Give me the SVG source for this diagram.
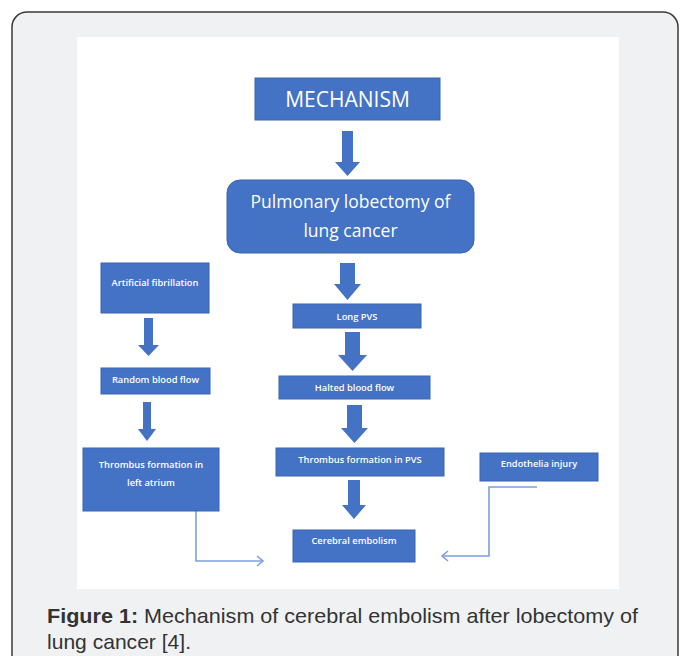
<svg xmlns="http://www.w3.org/2000/svg" width="681" height="656" viewBox="0 0 681 656">
<style>
.box{fill:#4472C4;stroke:#3A65B5;stroke-width:1}
.t{font-family:"Open Sans","Liberation Sans",sans-serif;fill:#ffffff;text-anchor:middle}
.s{font-size:9.3px;font-weight:600}
.blk{fill:#4472C4}
.ln{fill:none;stroke:#7C9FDD;stroke-width:1.6}
.cap{font-family:"Liberation Sans",Arial,sans-serif;font-size:21px;fill:#333333}
</style>
<rect x="12" y="12" width="666" height="660" rx="15" fill="#F0F1F3" stroke="#3a3a3a" stroke-width="1.5"/>
<rect x="77" y="37" width="542" height="552" fill="#FFFFFF"/>

<g id="connectors">
<polygon class="blk" points="342,131 353,131 353,162 360,162 347.5,176 335,162 342,162"/>
<polygon class="blk" points="340,263 355,263 355,284 361,284 347.5,300 334,284 340,284"/>
<polygon class="blk" points="345,332 360,332 360,355 367,355 352.5,371 338,355 345,355"/>
<polygon class="blk" points="347,405 362,405 362,428 368,428 354.5,443 341,428 347,428"/>
<polygon class="blk" points="348,480 360,480 360,505 366,505 354,519 342,505 348,505"/>
<polygon class="blk" points="144,318 153,318 153,345 159,345 148.5,356 138,345 144,345"/>
<polygon class="blk" points="143,402 151,402 151,429 156,429 147,441 138,429 143,429"/>
<polyline class="ln" points="196,511 196,561 263,561"/>
<polyline class="ln" points="257,556 263,561 257,566"/>
<polyline class="ln" points="537,487 489,487 489,556 442,556"/>
<polyline class="ln" points="448,551 442,556 448,561"/>
</g>

<g id="mechanism">
<rect class="box" x="255" y="78" width="185" height="42"/>
<text class="t" x="347.5" y="107" font-size="21">MECHANISM</text>
</g>
<g id="lobectomy">
<rect class="box" x="227" y="180" width="247" height="73" rx="13"/>
<text class="t" x="350.5" y="208" font-size="17.5">Pulmonary lobectomy of</text>
<text class="t" x="350.5" y="237" font-size="17.5">lung cancer</text>
</g>
<g id="long-pvs">
<rect class="box" x="293" y="304" width="128" height="24"/>
<text class="t s" x="357" y="319.5">Long PVS</text>
</g>
<g id="halted">
<rect class="box" x="279" y="376" width="151" height="23"/>
<text class="t s" x="354.5" y="391">Halted blood flow</text>
</g>
<g id="thrombus-pvs">
<rect class="box" x="276" y="448" width="168" height="28"/>
<text class="t s" x="360" y="463">Thrombus formation in PVS</text>
</g>
<g id="cerebral">
<rect class="box" x="293" y="530" width="122" height="32"/>
<text class="t s" x="354" y="544">Cerebral embolism</text>
</g>
<g id="fibrillation">
<rect class="box" x="101" y="263" width="108" height="50"/>
<text class="t s" x="155" y="286">Artificial fibrillation</text>
</g>
<g id="random">
<rect class="box" x="101" y="368" width="109" height="26"/>
<text class="t s" x="155.5" y="383">Random blood flow</text>
</g>
<g id="thrombus-atrium">
<rect class="box" x="83" y="448" width="136" height="63"/>
<text class="t s" x="151" y="468">Thrombus formation in</text>
<text class="t s" x="151" y="486">left atrium</text>
</g>
<g id="endothelia">
<rect class="box" x="480" y="453" width="118" height="28"/>
<text class="t s" x="539" y="467">Endothelia injury</text>
</g>

<text class="cap" x="47" y="623" textLength="591" lengthAdjust="spacingAndGlyphs"><tspan font-weight="bold">Figure 1:</tspan>  Mechanism of cerebral embolism after lobectomy of</text>
<text class="cap" x="47" y="649" textLength="144" lengthAdjust="spacingAndGlyphs">lung cancer [4].</text>
</svg>
